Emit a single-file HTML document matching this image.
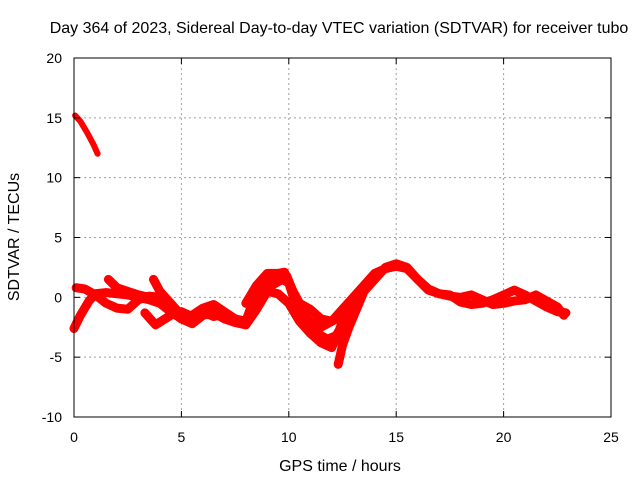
<!DOCTYPE html>
<html><head><meta charset="utf-8">
<style>
body{margin:0;background:#fff;}
svg{display:block;font-family:"Liberation Sans",sans-serif;}
</style></head>
<body>
<svg id="chart" width="640" height="480" viewBox="0 0 640 480" xmlns="http://www.w3.org/2000/svg">
<rect width="640" height="480" fill="#fff"/>
<text x="339" y="33" font-size="16" text-anchor="middle">Day 364 of 2023, Sidereal Day-to-day VTEC variation (SDTVAR) for receiver tubo</text>
<text transform="translate(19,237) rotate(-90)" font-size="16" text-anchor="middle">SDTVAR / TECUs</text>
<text x="340" y="471" font-size="16" text-anchor="middle">GPS time / hours</text>
<g id="grid"></g>
<g id="series"></g>
<rect x="74" y="58" width="537" height="359" fill="none" stroke="#000" stroke-width="1"/>
<g id="ticks"></g>
</svg>
<script>
const xTicks=[0,5,10,15,20,25];
const yTicks=[-10,-5,0,5,10,15,20];
const trackA=[[0.05,15.2],[0.3,14.7],[0.6,13.8],[0.9,12.8],[1.1,12.0]];
const trackB=[[0,-2.6],[0.3,-1.5],[0.7,-0.3],[1,0.3],[1.5,0.4],[2,0.3],[2.5,0.2],[3,0],[3.5,-0.2],[4,-0.5],[4.5,-1.2],[5,-1.8],[5.5,-1.5],[6,-0.9],[6.5,-0.6],[7,-1.2],[7.5,-1.8],[8,-2],[8.3,-0.5],[8.7,0.5],[9.2,1],[9.7,1.5],[10,1.2],[10.3,-0.5],[10.7,-1.5],[11,-2],[11.5,-2.5],[12,-2],[12.5,-1],[13,0],[13.5,1],[14,2],[14.5,2.4],[15,2.6],[15.5,2.4],[16,1.5],[16.5,0.6],[17,0.3],[17.5,0.2],[18,-0.4],[18.5,-0.6],[19,-0.5],[19.5,-0.2],[20,0.2],[20.5,0.6],[21,0.2],[21.5,-0.3],[22,-0.8],[22.5,-1.2],[22.9,-1.3]];
const trackC=[[0.1,0.8],[0.5,0.7],[1,0.2],[1.5,-0.5],[2,-0.9],[2.5,-1],[3,-0.2],[3.5,0.1],[4,0],[4.5,-0.8],[5,-1.8],[5.5,-2.2],[6,-1.5],[6.5,-1.3],[7,-1.8],[7.5,-2.1],[8,-2.3],[8.5,-1],[9,0.5],[9.5,0.3],[10,-0.5],[10.5,-2],[11,-3],[11.5,-3.8],[12,-4.2],[12.3,-3],[12.7,-1],[13,0]];
const trackD=[[1.6,1.5],[2,0.8],[2.5,0.5],[3,0.2],[3.5,0],[4,-0.3],[4.5,-0.9],[5,-1.4]];
const trackE=[[3.7,1.5],[4,0.5],[4.5,-0.5],[5,-1.5],[5.5,-1.9]];
const trackF=[[3.3,-1.3],[3.8,-2.3],[4.5,-1.5],[5,-1.2],[5.5,-1.6],[6,-1.2],[6.5,-1.6],[7,-1.4]];
const trackG=[[12.3,-5.6],[12.5,-4],[12.8,-2.5],[13.2,-0.8],[13.5,0.5],[14,1.5],[14.5,2.5],[15,2.8],[15.5,2.5],[16,1.5],[16.5,0.7],[17,0.3],[17.5,0.1],[18,0],[18.5,0.2],[19,-0.2],[19.5,-0.6],[20,-0.5],[20.5,-0.3],[21,-0.2],[21.5,0.2],[22,-0.3],[22.5,-0.8],[22.8,-1.5]];
const trackH=[[8,-0.5],[8.5,1],[9,2],[9.5,2],[9.8,2.1],[10.2,0.5],[10.5,-0.5],[11,-1],[11.5,-1.8],[12,-2],[12.5,-1.5],[13,-0.5]];
const trackI=[[8.2,-1.5],[8.6,0],[9,1.2],[9.4,1.5],[9.9,1.8],[10.3,0],[10.8,-2],[11.3,-3],[11.8,-3.5],[12.2,-3.2],[12.6,-2],[13,-1]];
const tracks=[trackA,trackB,trackC,trackD,trackE,trackF,trackG,trackH,trackI];

const X0=74,X1=611,Y0=417,Y1=58;
function xs(v){return X0+(v-0)/(25-0)*(X1-X0);}
function ys(v){return Y0-(v+10)/(30)*(Y0-Y1);}
const NS="http://www.w3.org/2000/svg";
const grid=document.getElementById('grid'),ticks=document.getElementById('ticks'),ser=document.getElementById('series');
function mk(tag,attrs,parent){const e=document.createElementNS(NS,tag);for(const k in attrs)e.setAttribute(k,attrs[k]);parent.appendChild(e);return e;}
xTicks.forEach(t=>{
  const x=xs(t);
  if(t>0&&t<25){const g=mk('line',{x1:x,x2:x,y1:Y1,y2:Y0,stroke:'#a0a0a0','stroke-dasharray':'2,3'},grid);
  
  }
  mk('line',{x1:x,x2:x,y1:Y0,y2:Y0-6,stroke:'#000'},ticks);
  mk('line',{x1:x,x2:x,y1:Y1,y2:Y1+6,stroke:'#000'},ticks);
  const l=mk('text',{x:x,y:Y0+25,'font-size':'14','text-anchor':'middle'},ticks);
  l.textContent=t;
  
  
});
yTicks.forEach(t=>{
  const y=ys(t);
  if(t>-10&&t<20){const g=mk('line',{x1:X0,x2:X1,y1:y,y2:y,stroke:'#a0a0a0','stroke-dasharray':'2,3'},grid);
  
  }
  mk('line',{x1:X0,x2:X0+6,y1:y,y2:y,stroke:'#000'},ticks);
  mk('line',{x1:X1,x2:X1-6,y1:y,y2:y,stroke:'#000'},ticks);
  const l=mk('text',{x:X0-12,y:y+5,'font-size':'14','text-anchor':'end'},ticks);
  l.textContent=t;
  
  
});
tracks.forEach((tr,i)=>{
  const p=mk('polyline',{points:tr.map(d=>xs(d[0])+','+ys(d[1])).join(' '),fill:'none',stroke:'#ff0000','stroke-width':i===0?6:9,'stroke-linejoin':'round','stroke-linecap':'round'},ser);
  
  
});
</script>
</body></html>
